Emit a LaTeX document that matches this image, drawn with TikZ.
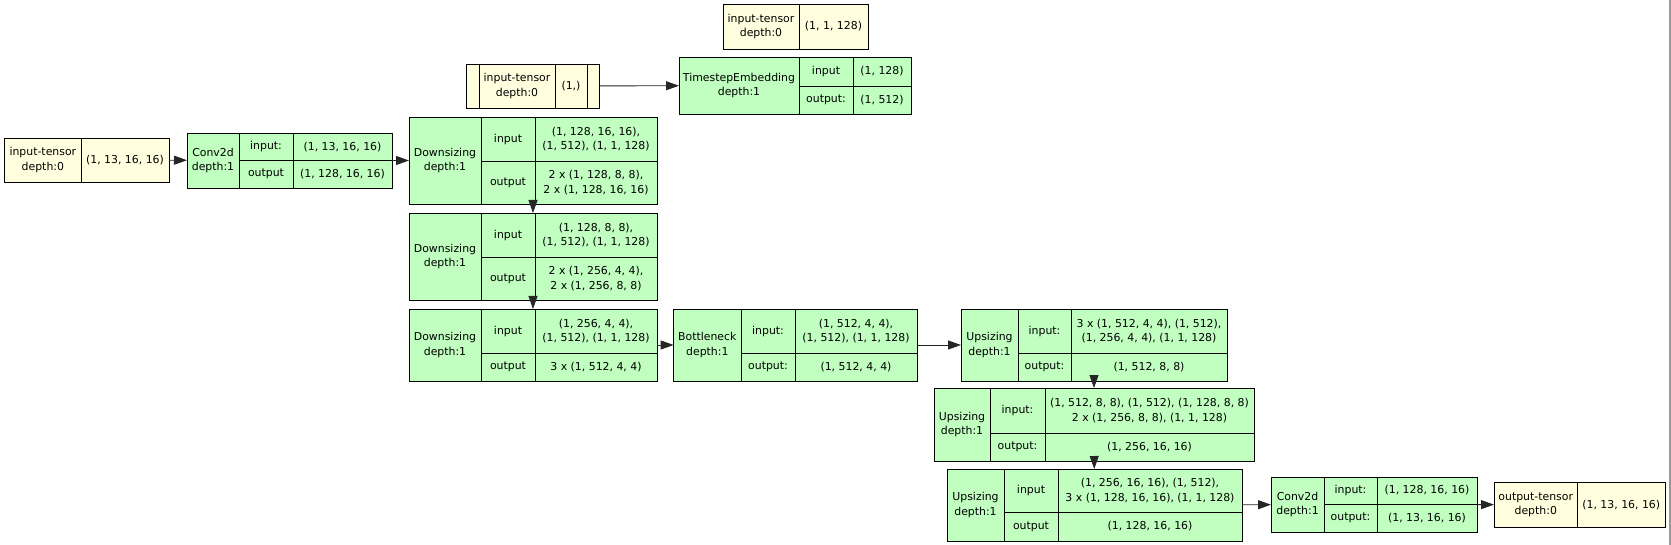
\documentclass[tikz,border=0pt]{standalone}
\usepackage{fontspec}
\setmainfont{DejaVu Sans}
\usetikzlibrary{arrows.meta}
\definecolor{grn}{HTML}{C1FFC1}
\definecolor{yel}{HTML}{FFFFE0}
\tikzset{
 cellg/.style={draw=black, fill=grn, line width=0.9pt, inner sep=0pt, outer sep=0pt, align=center, font=\fontsize{10.9}{14.5}\selectfont},
 celly/.style={cellg, fill=yel},
 frame/.style={draw=none, fill=none, inner sep=0pt, outer sep=0pt},
 conn/.style={draw=black!85, line width=0.9pt, -{Triangle[length=13pt,width=9pt]}},
}
\newcommand\cel[7]{\node[#2, minimum width={(#5-#3)*1pt}, minimum height={(#6-#4)*1pt}] (#1) at ({(#3+#5)/2},{(#4+#6)/2}) {#7};}
\newcommand\geo[8]{\def\Nm{#1}\def\Xa{#2}\def\Xb{#3}\def\Xc{#4}\def\Xd{#5}\def\Ya{#6}\def\Yb{#7}\def\Yc{#8}}
\newcommand\rec[6]{%
 \cel{\Nm-n}{#1}{\Xa}{\Ya}{\Xb}{\Yc}{#2}
 \cel{\Nm-il}{#1}{\Xb}{\Ya}{\Xc}{\Yb}{#3}
 \cel{\Nm-iv}{#1}{\Xc}{\Ya}{\Xd}{\Yb}{#4}
 \cel{\Nm-ol}{#1}{\Xb}{\Yb}{\Xc}{\Yc}{#5}
 \cel{\Nm-ov}{#1}{\Xc}{\Yb}{\Xd}{\Yc}{#6}
 \cel{\Nm}{frame}{\Xa}{\Ya}{\Xd}{\Yc}{}
}
\begin{document}
\begin{tikzpicture}[x=1pt,y=-1pt]
\useasboundingbox (0,0) rectangle (1671,545);
\fill[white] (0,0) rectangle (1671,545);
\draw[black!40, line width=1.5pt] (1670,0) -- (1670,545);

% input tensor
\cel{in1-n}{celly}{4.7}{138}{81}{182}{input-tensor\\depth:0}
\cel{in1-v}{celly}{81}{138}{169}{182}{(1, 13, 16, 16)}
\cel{in1}{frame}{4.7}{138}{169}{182}{}

% conv2d 1
\geo{conv1}{187}{239}{293}{392}{133}{160.5}{188}
\rec{cellg}{Conv2d\\depth:1}{input:}{(1, 13, 16, 16)}{output}{(1, 128, 16, 16)}

% downsizing 1
\geo{down1}{409}{481}{535}{657}{117}{161}{204}
\rec{cellg}{Downsizing\\depth:1}{input}{(1, 128, 16, 16),\\(1, 512), (1, 1, 128)}{output}{2 x (1, 128, 8, 8),\\2 x (1, 128, 16, 16)}

% downsizing 2
\geo{down2}{409}{481}{535}{657}{213}{257}{300}
\rec{cellg}{Downsizing\\depth:1}{input}{(1, 128, 8, 8),\\(1, 512), (1, 1, 128)}{output}{2 x (1, 256, 4, 4),\\2 x (1, 256, 8, 8)}

% downsizing 3
\geo{down3}{409}{481}{535}{657}{309}{353}{381}
\rec{cellg}{Downsizing\\depth:1}{input}{(1, 256, 4, 4),\\(1, 512), (1, 1, 128)}{output}{3 x (1, 512, 4, 4)}

% bottleneck
\geo{bott}{673.6}{741}{795}{917}{309}{353}{381}
\rec{cellg}{Bottleneck\\depth:1}{input:}{(1, 512, 4, 4),\\(1, 512), (1, 1, 128)}{output:}{(1, 512, 4, 4)}

% upsizing 1
\geo{up1}{961}{1018}{1071}{1227}{309}{353}{381}
\rec{cellg}{Upsizing\\depth:1}{input:}{3 x (1, 512, 4, 4), (1, 512),\\(1, 256, 4, 4), (1, 1, 128)}{output:}{(1, 512, 8, 8)}

% upsizing 2
\geo{up2}{934}{990}{1045}{1254}{388}{433}{461}
\rec{cellg}{Upsizing\\depth:1}{input:}{(1, 512, 8, 8), (1, 512), (1, 128, 8, 8)\\2 x (1, 256, 8, 8), (1, 1, 128)}{output:}{(1, 256, 16, 16)}

% upsizing 3
\geo{up3}{947}{1004}{1058}{1242}{469}{512}{541}
\rec{cellg}{Upsizing\\depth:1}{input}{(1, 256, 16, 16), (1, 512),\\3 x (1, 128, 16, 16), (1, 1, 128)}{output}{(1, 128, 16, 16)}

% conv2d 2
\geo{conv2}{1271}{1324}{1377}{1477}{477}{504}{532}
\rec{cellg}{Conv2d\\depth:1}{input:}{(1, 128, 16, 16)}{output:}{(1, 13, 16, 16)}

% output tensor
\cel{outp-n}{celly}{1494}{482.5}{1577.5}{527}{output-tensor\\depth:0}
\cel{outp-v}{celly}{1577.5}{482.5}{1665}{527}{(1, 13, 16, 16)}
\cel{outp}{frame}{1494}{482.5}{1665}{527}{}

% timestep input (1,)
\cel{tin-l}{celly}{466.7}{64}{479}{108}{}
\cel{tin-n}{celly}{479}{64}{555}{108}{input-tensor\\depth:0}
\cel{tin-v}{celly}{555}{64}{587}{108}{(1,)}
\cel{tin-r}{celly}{587}{64}{599.3}{108}{}
\cel{tin}{frame}{466.7}{64}{599.3}{108}{}

% timestep embedding
\geo{temb}{679}{799}{853}{911}{57}{86}{114}
\rec{cellg}{TimestepEmbedding\\depth:1}{input}{(1, 128)}{output:}{(1, 512)}

% top input tensor
\cel{tin2-n}{celly}{723}{4}{799}{49}{input-tensor\\depth:0}
\cel{tin2-v}{celly}{799}{4}{868}{49}{(1, 1, 128)}

% connectors
\draw[conn] (in1) -- (conv1);
\draw[conn] (conv1) -- (down1);
\draw[conn] (down1) -- (down2);
\draw[conn] (down2) -- (down3);
\draw[conn] (down3) -- (bott);
\draw[conn] (bott) -- (up1);
\draw[conn] (up1) -- (up2);
\draw[conn] (up2) -- (up3);
\draw[conn] (up3) -- (conv2);
\draw[conn] (conv2) -- (outp);
\draw[conn] (tin) -- (temb);
\end{tikzpicture}
\end{document}
